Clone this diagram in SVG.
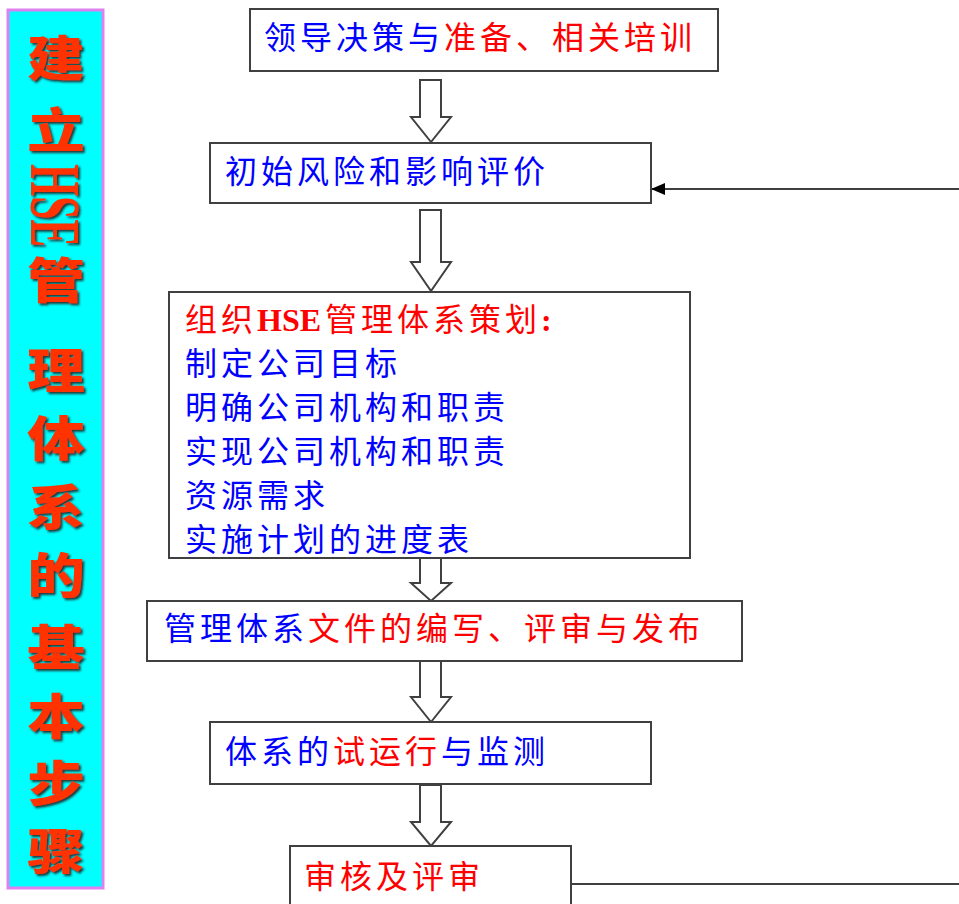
<svg xmlns="http://www.w3.org/2000/svg" width="959" height="904" viewBox="0 0 959 904">
<style>
.box{fill:#fff;stroke:#404040;stroke-width:2}
.t{font-family:"Noto Sans CJK SC","Liberation Sans",sans-serif;font-size:32px;letter-spacing:4px}
.b{fill:#0000ff}
.r{fill:#ff0000}
.arr{fill:#fff;stroke:#404040;stroke-width:2;stroke-linejoin:miter}
.side{font-family:"Noto Sans CJK SC",sans-serif;font-weight:900;font-size:48px;fill:#ff3300;text-anchor:middle}
.lat{font-family:"Liberation Serif",serif;font-weight:bold}
.ln{stroke:#404040;stroke-width:2;fill:none}
</style>
<defs>
<filter id="sh" x="-20%" y="-20%" width="150%" height="150%">
<feDropShadow dx="2" dy="2" stdDeviation="1" flood-color="#202020" flood-opacity="0.9"/>
</filter>
<marker id="ah" markerWidth="14" markerHeight="12" refX="13" refY="6" orient="auto" markerUnits="userSpaceOnUse">
<path d="M0,0 L14,6 L0,12 Z" fill="#000"/>
</marker>
</defs>

<g id="sidebar">
<rect x="8" y="10" width="95" height="878" fill="#00ffff" stroke="#e080f0" stroke-width="3"/>
<g filter="url(#sh)">
<text class="side" transform="translate(56,76) scale(1.2,1)">建</text>
<text class="side" transform="translate(56,148) scale(1.2,1)">立</text>
<text class="lat" font-size="72" fill="#ff3300" transform="translate(31,164) rotate(90)" textLength="83" lengthAdjust="spacingAndGlyphs">HSE</text>
<text class="side" transform="translate(56,298) scale(1.2,1)">管</text>
<text class="side" transform="translate(56,388) scale(1.2,1)">理</text>
<text class="side" transform="translate(56,456) scale(1.2,1)">体</text>
<text class="side" transform="translate(56,525) scale(1.2,1)">系</text>
<text class="side" transform="translate(56,593) scale(1.2,1)">的</text>
<text class="side" transform="translate(56,665) scale(1.2,1)">基</text>
<text class="side" transform="translate(56,734) scale(1.2,1)">本</text>
<text class="side" transform="translate(56,801) scale(1.2,1)">步</text>
<text class="side" transform="translate(56,869) scale(1.2,1)">骤</text>
</g>
</g>

<g id="connectors">
<path class="arr" d="M420,80 H441 V117 H451 L431,142 L411,117 H420 Z"/>
<path class="arr" d="M420,210 H441 V262 H451 L431,291 L411,262 H420 Z"/>
<path class="arr" d="M420,558 H441 V583 H451 L431,601 L411,583 H420 Z"/>
<path class="arr" d="M420,661 H441 V697 H451 L431,722 L411,697 H420 Z"/>
<path class="arr" d="M420,785 H441 V822 H451 L431,846 L411,822 H420 Z"/>
<line class="ln" x1="959" y1="189" x2="652" y2="189" marker-end="url(#ah)"/>
<line class="ln" x1="571" y1="884" x2="959" y2="884"/>
</g>

<g id="n1">
<rect class="box" x="250" y="9" width="468" height="62"/>
<text class="t" x="264" y="49"><tspan class="b">领导决策与</tspan><tspan class="r">准备、相关培训</tspan></text>
</g>

<g id="n2">
<rect class="box" x="210" y="143" width="441" height="60"/>
<text class="t b" x="225" y="183">初始风险和影响评价</text>
</g>

<g id="n3">
<rect class="box" x="169" y="292" width="521" height="266"/>
<text class="t r" x="185" y="331">组织<tspan class="lat" style="letter-spacing:0">HS</tspan><tspan class="lat">E</tspan>管理体系策划<tspan class="lat">:</tspan></text>
<text class="t b" x="185" y="375">制定公司目标</text>
<text class="t b" x="185" y="419">明确公司机构和职责</text>
<text class="t b" x="185" y="463">实现公司机构和职责</text>
<text class="t b" x="185" y="507">资源需求</text>
<text class="t b" x="185" y="551">实施计划的进度表</text>
</g>

<g id="n4">
<rect class="box" x="147" y="601" width="595" height="60"/>
<text class="t" x="164" y="640"><tspan class="b">管理体系</tspan><tspan class="r">文件的编写、评审与发布</tspan></text>
</g>

<g id="n5">
<rect class="box" x="210" y="722" width="441" height="62"/>
<text class="t" x="225" y="763"><tspan class="b">体系的</tspan><tspan class="r">试运行</tspan><tspan class="b">与监测</tspan></text>
</g>

<g id="n6">
<rect class="box" x="290" y="846" width="281" height="80"/>
<text class="t r" x="304" y="888">审核及评审</text>
</g>
</svg>
